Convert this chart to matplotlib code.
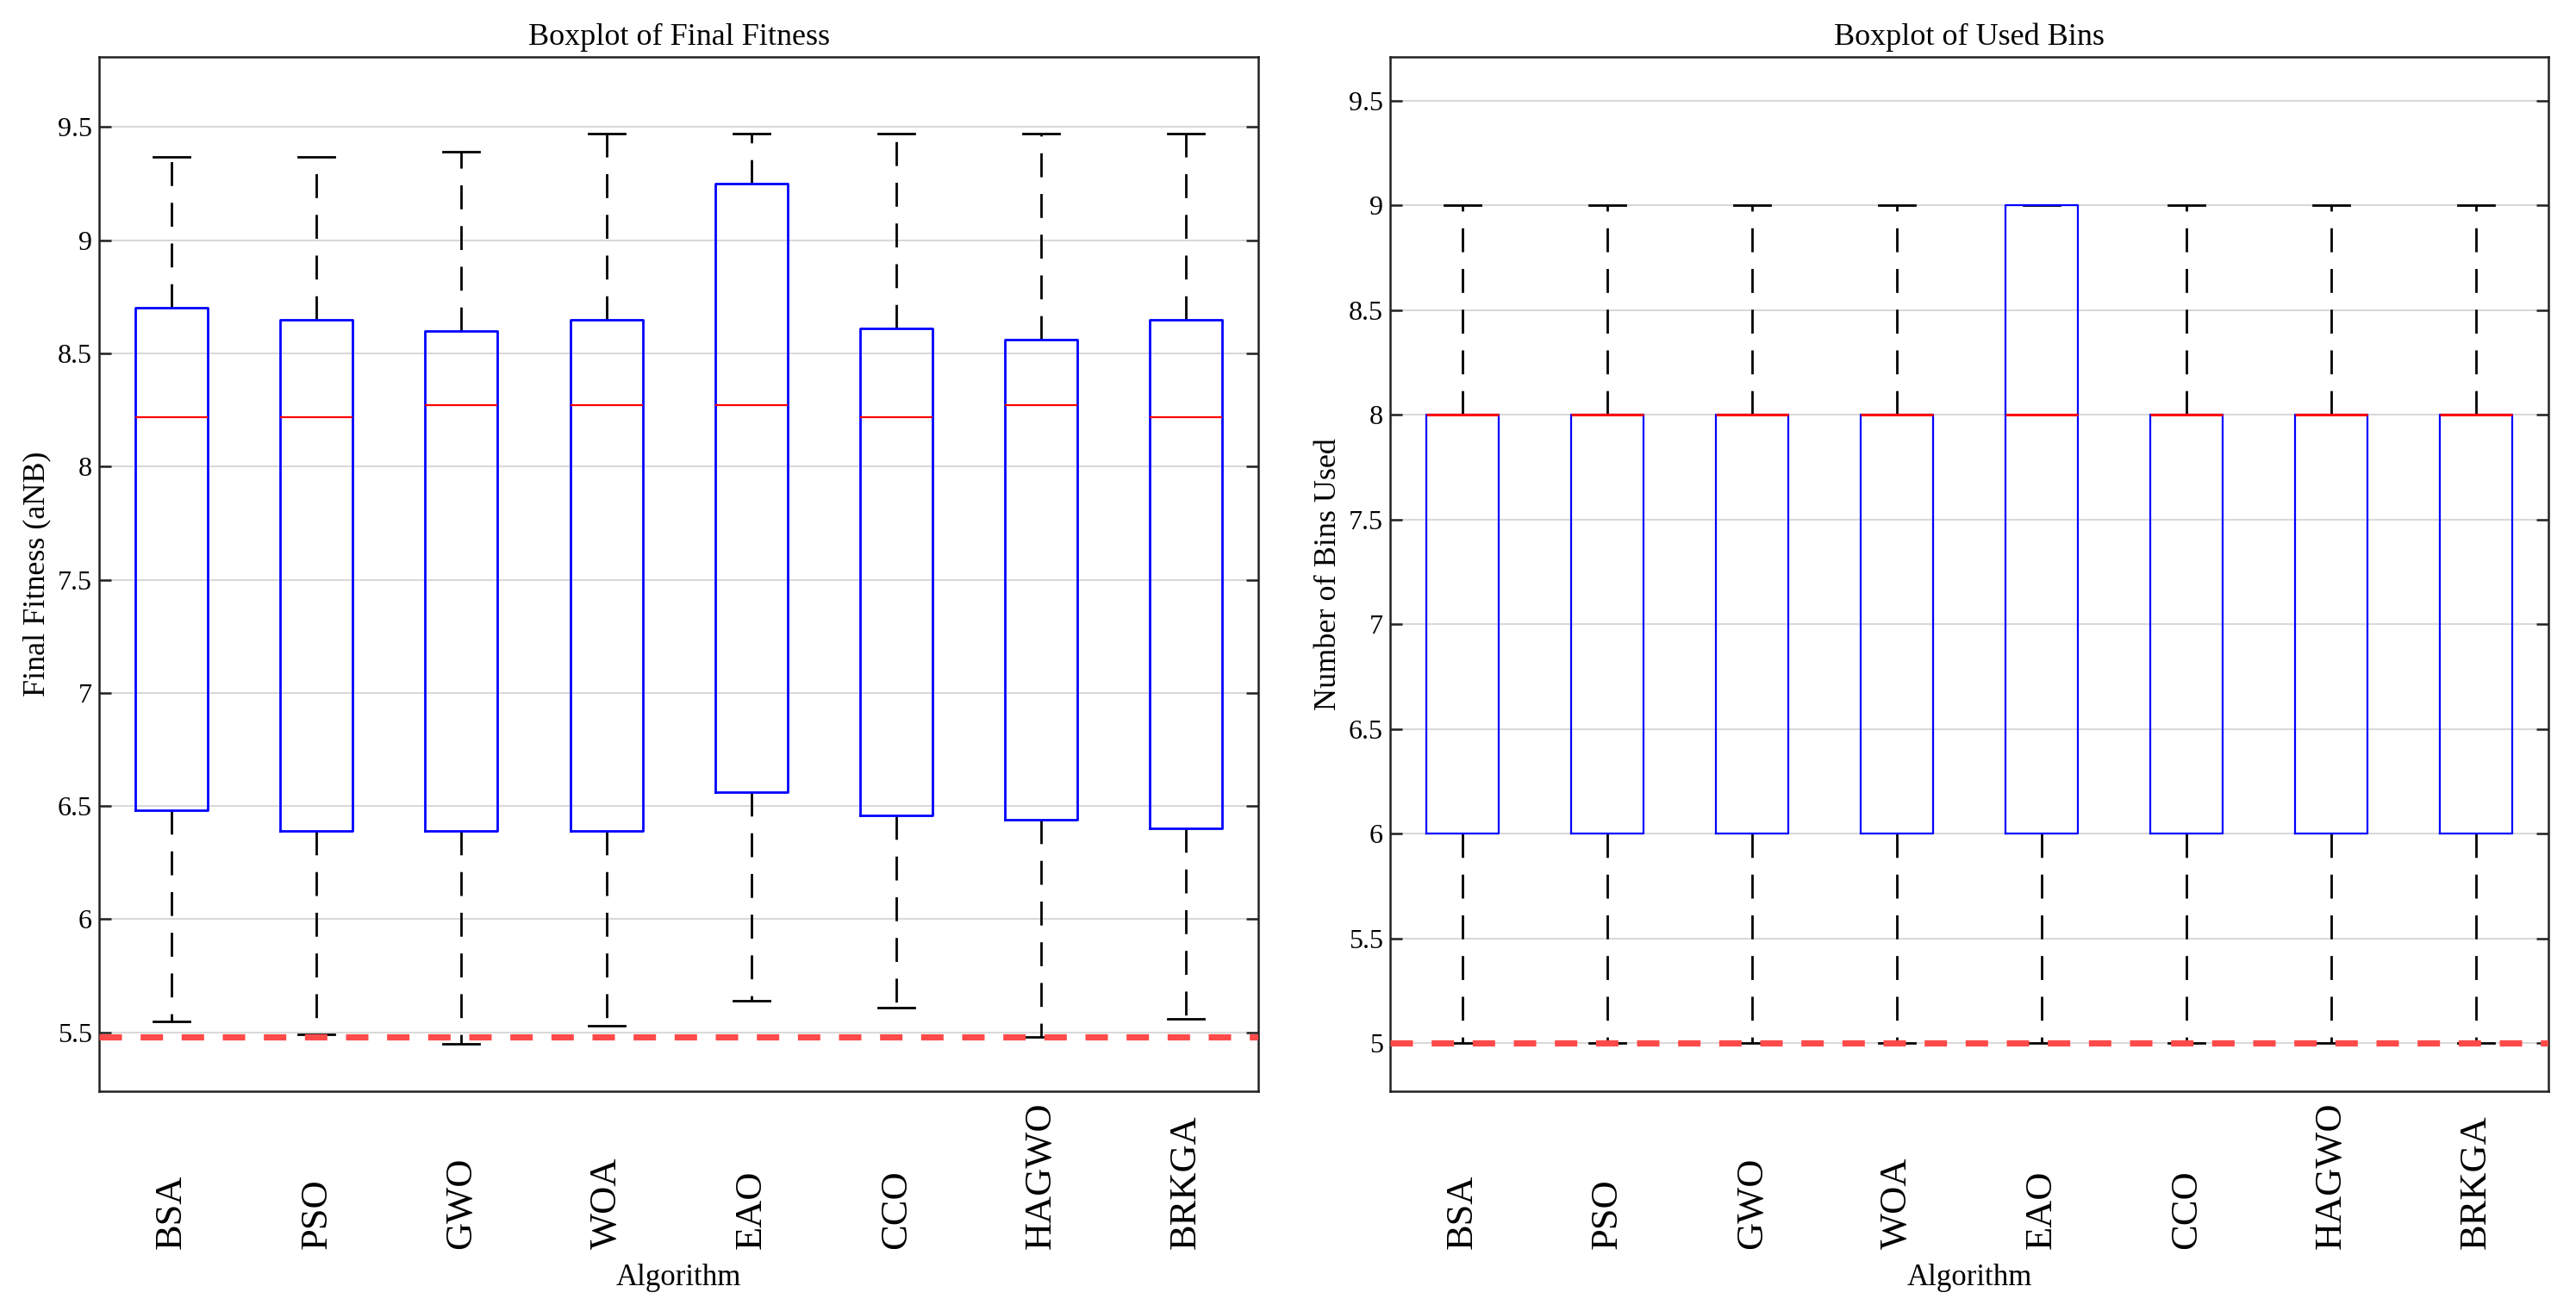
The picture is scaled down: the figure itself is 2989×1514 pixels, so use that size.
import numpy as np
import matplotlib
matplotlib.use("Agg")
import matplotlib.pyplot as plt
from matplotlib.ticker import FuncFormatter, MultipleLocator

plt.rcParams['font.family'] = ['Liberation Serif', 'DejaVu Serif']

algorithms = ['BSA', 'PSO', 'GWO', 'WOA', 'EAO', 'CCO', 'HAGWO', 'BRKGA']

# final fitness (aNB) box stats
fit_low = [5.55, 5.49, 5.45, 5.53, 5.64, 5.61, 5.48, 5.56]
fit_q1 = [6.48, 6.39, 6.39, 6.39, 6.56, 6.46, 6.44, 6.40]
fit_med = [8.22, 8.22, 8.27, 8.27, 8.27, 8.22, 8.27, 8.22]
fit_q3 = [8.70, 8.65, 8.60, 8.65, 9.25, 8.61, 8.56, 8.65]
fit_high = [9.37, 9.37, 9.39, 9.47, 9.47, 9.47, 9.47, 9.47]
fit_bound = 5.48

# used bins box stats (right panel)
bins_low = [5, 5, 5, 5, 5, 5, 5, 5]
bins_q1 = [6, 6, 6, 6, 6, 6, 6, 6]
bins_med = [8, 8, 8, 8, 8, 8, 8, 8]
bins_q3 = [8, 8, 8, 8, 9, 8, 8, 8]
bins_high = [9, 9, 9, 9, 9, 9, 9, 9]
bins_bound = 5


def make_stats(low, q1, med, q3, high):
    stats = []
    for i in range(len(algorithms)):
        stats.append({'whislo': low[i], 'q1': q1[i], 'med': med[i],
                      'q3': q3[i], 'whishi': high[i], 'fliers': [],
                      'label': algorithms[i]})
    return stats


def draw_panel(ax, stats, bound, title, ylabel, ylim, yticks, box_lw, med_lw):
    pos = np.arange(1, len(algorithms) + 1)
    ax.bxp(stats, positions=pos, widths=0.5, showfliers=False,
           boxprops=dict(color='#0000ff', linewidth=box_lw, zorder=4),
           medianprops=dict(color='#ff0000', linewidth=med_lw, zorder=5),
           whiskerprops=dict(color='black', linewidth=2.0, linestyle=(0, (10, 7)), zorder=3),
           capprops=dict(color='black', linewidth=2.0, zorder=3))

    # lower bound line
    ax.axhline(bound, color='#ff4a4a', linewidth=5.2, linestyle=(0, (3.6, 3.0)), zorder=6)

    ax.set_xlim(0.5, len(algorithms) + 0.5)
    ax.set_ylim(*ylim)
    ax.yaxis.set_major_locator(MultipleLocator(0.5))
    ax.yaxis.set_major_formatter(FuncFormatter(lambda v, p: '%g' % v))
    ax.set_yticks(yticks)
    ax.set_ylim(*ylim)
    ax.grid(axis='y', color='#d9d9d9', linewidth=1.5, zorder=0)
    ax.set_axisbelow(True)

    ax.set_xticks(pos)
    ax.set_xticklabels(algorithms, rotation=90, fontsize=32, va='bottom', ha='center')
    ax.tick_params(axis='x', length=0, pad=132)
    ax.tick_params(axis='y', direction='in', left=True, right=True, length=10,
                   width=1.8, labelsize=23, pad=6, color='#222222')

    for sp in ax.spines.values():
        sp.set_linewidth(1.8)
        sp.set_color('#222222')

    ax.set_title(title, fontsize=26, pad=10)
    ax.set_ylabel(ylabel, fontsize=26, labelpad=5)
    ax.set_xlabel('Algorithm', fontsize=25)
    ax.xaxis.set_label_coords(0.5, -0.167)


fig = plt.figure(figsize=(29.89, 15.14), dpi=100)
ax1 = fig.add_axes([0.0385, 0.1638, 0.45, 0.7926])
ax2 = fig.add_axes([0.5397, 0.1638, 0.4496, 0.7926])

draw_panel(ax1, make_stats(fit_low, fit_q1, fit_med, fit_q3, fit_high), fit_bound,
           'Boxplot of Final Fitness', 'Final Fitness (aNB)', (5.24, 9.81),
           [5.5, 6, 6.5, 7, 7.5, 8, 8.5, 9, 9.5], 2.0, 1.6)
draw_panel(ax2, make_stats(bins_low, bins_q1, bins_med, bins_q3, bins_high), bins_bound,
           'Boxplot of Used Bins', 'Number of Bins Used', (4.77, 9.71),
           [5, 5.5, 6, 6.5, 7, 7.5, 8, 8.5, 9, 9.5], 1.6, 2.2)

fig.savefig('out.png', dpi=100)
